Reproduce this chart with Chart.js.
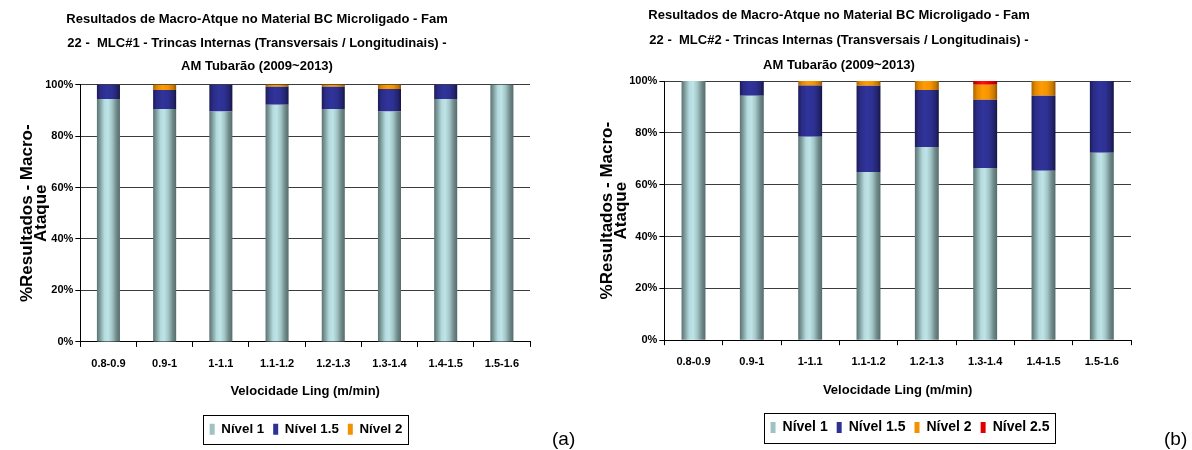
<!DOCTYPE html>
<html>
<head>
<meta charset="utf-8">
<script src="https://cdn.jsdelivr.net/npm/chart.js@4.4.1/dist/chart.umd.min.js"></script>
<style>
  html, body { margin: 0; padding: 0; background: #fff; width: 1192px; height: 450px; overflow: hidden; }
  canvas { position: absolute; top: 0; }
  #cA { left: 0; }
  #cB { left: 588px; }
  .tag { position: absolute; font-family: 'Liberation Sans', Arial, sans-serif; font-size: 19px; color: #000; }
  #tagA { left: 552px; top: 428px; }
  #tagB { left: 1164px; top: 428px; }
</style>
</head>
<body>
<canvas id="cA" width="580" height="450"></canvas>
<canvas id="cB" width="604" height="450"></canvas>
<div class="tag" id="tagA">(a)</div>
<div class="tag" id="tagB">(b)</div>
<script>
// Casting speed classes (m/min)
const speedClasses = ['0.8-0.9', '0.9-1', '1-1.1', '1.1-1.2', '1.2-1.3', '1.3-1.4', '1.4-1.5', '1.5-1.6'];
const yTicks = [0, 20, 40, 60, 80, 100];

// MLC#1 – share of macro-etch results per level (%)
const mlc1Nivel1  = [94.4, 90.5, 89.5, 92.2, 90.5, 89.5, 94.4, 100];
const mlc1Nivel15 = [5.6, 7.4, 10.5, 7.0, 8.7, 8.8, 5.6, 0];
const mlc1Nivel2  = [0, 2.1, 0, 0.8, 0.8, 1.7, 0, 0];

// MLC#2 – share of macro-etch results per level (%)
const mlc2Nivel1  = [100, 94.3, 78.5, 64.9, 74.6, 66.5, 65.4, 72.3];
const mlc2Nivel15 = [0, 5.7, 19.8, 33.3, 22.0, 26.3, 28.9, 27.7];
const mlc2Nivel2  = [0, 0, 1.7, 1.8, 3.4, 5.8, 5.7, 0];
const mlc2Nivel25 = [0, 0, 0, 0, 0, 1.4, 0, 0];

const titleMlc1 = ['Resultados de Macro-Atque no Material BC Microligado - Fam',
                   '22 -  MLC#1 - Trincas Internas (Transversais / Longitudinais) -',
                   'AM Tubarão (2009~2013)'];
const titleMlc2 = ['Resultados de Macro-Atque no Material BC Microligado - Fam',
                   '22 -  MLC#2 - Trincas Internas (Transversais / Longitudinais) -',
                   'AM Tubarão (2009~2013)'];
const yTitle = ['%Resultados - Macro-', 'Ataque'];
const xTitle = 'Velocidade Ling (m/min)';

Chart.defaults.font.family = "'Liberation Sans', Arial, sans-serif";
Chart.defaults.color = '#000';

const BAR_SHARE = 0.41;

// Cylinder-like horizontal shading for each level
const shades = {
  n1:  { solid: '#9fc3c5', stops: [[0, '#5a7272'], [0.12, '#7b9797'], [0.32, '#b3dadd'], [0.48, '#bfe4e7'], [0.66, '#a3c5c7'], [0.85, '#6f8989'], [1, '#566c6c']] },
  n15: { solid: '#2e3192', stops: [[0, '#1b1b58'], [0.15, '#2a2c86'], [0.4, '#30339a'], [0.65, '#2e3192'], [0.88, '#22246e'], [1, '#15153f']] },
  n2:  { solid: '#f39200', stops: [[0, '#a86400'], [0.15, '#e08700'], [0.4, '#ff9c05'], [0.65, '#f59400'], [0.88, '#c77700'], [1, '#8f5400']] },
  n25: { solid: '#e00000', stops: [[0, '#a00000'], [0.15, '#e00000'], [0.4, '#ff1010'], [0.65, '#f00000'], [0.88, '#c00000'], [1, '#8a0000']] }
};

function shadedFill(key) {
  const s = shades[key];
  return function (ctx) {
    if (ctx.type !== 'data') return s.solid;
    const chart = ctx.chart;
    const x = chart.scales && chart.scales.x;
    if (!chart.chartArea || !x) return s.solid;
    const cx = x.getPixelForValue(ctx.dataIndex);
    const half = x.width / speedClasses.length * BAR_SHARE / 2;
    const g = chart.ctx.createLinearGradient(cx - half, 0, cx + half, 0);
    s.stops.forEach(([o, c]) => g.addColorStop(o, c));
    return g;
  };
}

function ds(label, data, key) {
  return {
    label, data,
    shadeKey: key,
    backgroundColor: shadedFill(key),
    borderWidth: 0,
    categoryPercentage: 1,
    barPercentage: BAR_SHARE
  };
}

// Legend swatches use the flat tone of each level
function legendLabels(chart) {
  const items = Chart.defaults.plugins.legend.labels.generateLabels(chart);
  items.forEach(it => {
    const d = chart.data.datasets[it.datasetIndex];
    it.fillStyle = shades[d.shadeKey].solid;
    it.strokeStyle = shades[d.shadeKey].solid;
    it.lineWidth = 0;
  });
  return items;
}

// Places title/legend horizontally and frames the legend
const legendFrame = {
  id: 'legendFrame',
  afterLayout(chart, args, opts) {
    const t = chart.titleBlock, l = chart.legend;
    if (t && opts.titleX != null) {
      const dx = opts.titleX - (t.left + t.right) / 2;
      t.left += dx; t.right += dx;
    }
    if (l && opts.legendX != null) {
      const dx = opts.legendX - (l.left + l.right) / 2;
      l.left += dx; l.right += dx;
    }
  },
  afterDraw(chart, args, opts) {
    const boxes = chart.legend && chart.legend.legendHitBoxes;
    if (!boxes || !boxes.length) return;
    let x0 = Infinity, x1 = -Infinity, y0 = Infinity, y1 = -Infinity;
    boxes.forEach(b => {
      x0 = Math.min(x0, b.left); x1 = Math.max(x1, b.left + b.width);
      y0 = Math.min(y0, b.top);  y1 = Math.max(y1, b.top + b.height);
    });
    const c = chart.ctx;
    c.save();
    c.strokeStyle = '#000';
    c.lineWidth = 1;
    c.strokeRect(Math.round(x0 - 7) + 0.5, Math.round(y0 - 8) + 0.5,
                 Math.round(x1 - x0 + 12), Math.round(y1 - y0 + 16));
    c.restore();
  }
};

function makeChart(id, title, datasets, cfg) {
  return new Chart(document.getElementById(id), {
    type: 'bar',
    data: { labels: speedClasses, datasets },
    plugins: [legendFrame],
    options: {
      responsive: false,
      animation: false,
      layout: { padding: cfg.padding },
      plugins: {
        tooltip: { enabled: false },
        title: {
          display: true,
          text: title,
          font: { size: 13, weight: 'bold', lineHeight: cfg.titleLH },
          padding: cfg.titlePad
        },
        legend: {
          position: 'bottom',
          labels: {
            boxWidth: 5,
            boxHeight: 11,
            padding: 9,
            font: { size: cfg.legendFont, weight: 'bold' },
            generateLabels: legendLabels
          }
        },
        legendFrame: { titleX: cfg.titleX, legendX: cfg.legendX }
      },
      scales: {
        x: {
          stacked: true,
          grid: {
            offset: true,
            drawOnChartArea: true,
            color: c => (c.index === speedClasses.length ? '#000' : 'rgba(0,0,0,0)'),
            tickColor: '#000',
            tickLength: 5,
            lineWidth: 1
          },
          border: { color: '#000', width: 1 },
          ticks: { font: { size: 11, weight: 'bold' }, padding: 10, maxRotation: 0, autoSkip: false },
          title: {
            display: true, text: xTitle,
            font: { size: 13, weight: 'bold' },
            padding: cfg.xTitlePad
          }
        },
        y: {
          stacked: true,
          min: 0, max: 100,
          afterBuildTicks: s => { s.ticks = yTicks.map(v => ({ value: v })); },
          grid: { color: '#3c3c3c', tickColor: '#000', tickLength: 5, lineWidth: 1 },
          border: { color: '#000', width: 1 },
          ticks: { font: { size: 11, weight: 'bold' }, padding: 2, callback: v => v + '%' },
          title: {
            display: true, text: yTitle,
            font: { size: 17, weight: 'bold', lineHeight: 0.8 },
            padding: cfg.yTitlePad
          }
        }
      }
    }
  });
}

makeChart('cA', titleMlc1, [
  ds('Nível 1', mlc1Nivel1, 'n1'),
  ds('Nível 1.5', mlc1Nivel15, 'n15'),
  ds('Nível 2', mlc1Nivel2, 'n2')
], {
  padding: { left: 8, right: 50, top: 0, bottom: 4 },
  titleLH: 1.81, titlePad: { top: 8, bottom: 6 },
  legendFont: 13.3,
  xTitlePad: { top: 4, bottom: 14 },
  yTitlePad: { top: 13, bottom: -5 },
  titleX: 257, legendX: 306
});

makeChart('cB', titleMlc2, [
  ds('Nível 1', mlc2Nivel1, 'n1'),
  ds('Nível 1.5', mlc2Nivel15, 'n15'),
  ds('Nível 2', mlc2Nivel2, 'n2'),
  ds('Nível 2.5', mlc2Nivel25, 'n25')
], {
  padding: { left: 4, right: 61, top: 0, bottom: 5.5 },
  titleLH: 1.9, titlePad: { top: 3.5, bottom: 3.5 },
  legendFont: 14,
  xTitlePad: { top: 4, bottom: 13.5 },
  yTitlePad: { top: 9, bottom: -1 },
  titleX: 251, legendX: 322
});
</script>
</body>
</html>
